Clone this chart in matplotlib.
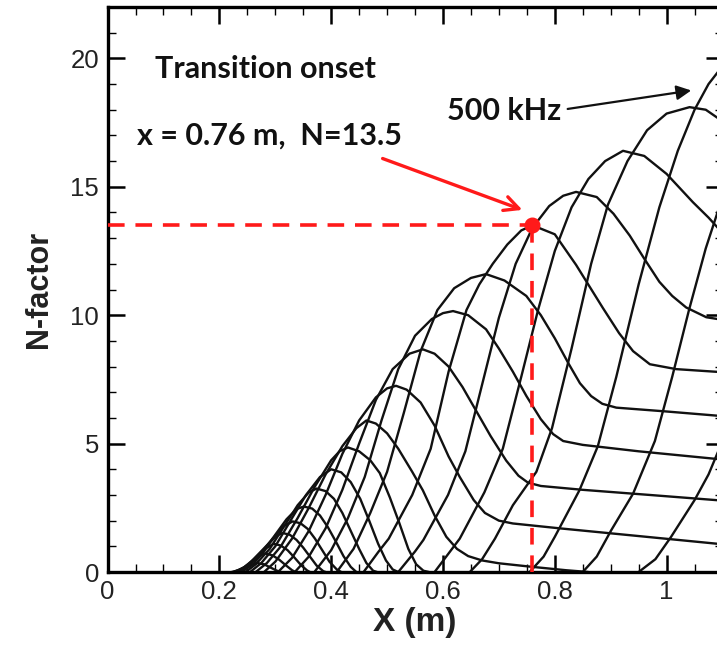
import matplotlib
matplotlib.use("Agg")
import matplotlib.pyplot as plt
from matplotlib.ticker import MultipleLocator, FixedLocator

# ---------------- data ----------------
c01_x = [0.222, 0.240, 0.255, 0.268, 0.280, 0.291, 0.302, 0.310]
c01_n = [0, 0.10, 0.27, 0.35, 0.30, 0.18, 0.06, 0]
c02_x = [0.225, 0.242, 0.258, 0.272, 0.282, 0.295, 0.307, 0.319, 0.330, 0.336]
c02_n = [0, 0.15, 0.40, 0.63, 0.72, 0.65, 0.48, 0.26, 0.07, 0]
c03_x = [0.228, 0.245, 0.262, 0.280, 0.297, 0.310, 0.322, 0.334, 0.346, 0.357, 0.362]
c03_n = [0, 0.20, 0.50, 0.88, 1.10, 1.03, 0.85, 0.57, 0.27, 0.06, 0]
c04_x = [0.231, 0.250, 0.270, 0.290, 0.303, 0.313, 0.326, 0.338, 0.350, 0.362, 0.374, 0.386, 0.390]
c04_n = [0, 0.25, 0.70, 1.15, 1.42, 1.52, 1.45, 1.25, 0.95, 0.60, 0.25, 0.03, 0]
c05_x = [0.235, 0.255, 0.275, 0.295, 0.315, 0.331, 0.345, 0.358, 0.371, 0.384, 0.397, 0.410, 0.418]
c05_n = [0, 0.30, 0.75, 1.30, 1.78, 1.97, 1.90, 1.68, 1.30, 0.85, 0.40, 0.10, 0]
c06_x = [0.240, 0.260, 0.280, 0.300, 0.320, 0.338, 0.351, 0.366, 0.380, 0.394, 0.408, 0.422, 0.435, 0.445]
c06_n = [0, 0.30, 0.80, 1.45, 2.05, 2.45, 2.55, 2.47, 2.20, 1.75, 1.20, 0.62, 0.20, 0]
c07_x = [0.247, 0.265, 0.290, 0.315, 0.340, 0.360, 0.374, 0.390, 0.405, 0.420, 0.435, 0.450, 0.463, 0.475, 0.482]
c07_n = [0, 0.30, 0.90, 1.75, 2.60, 3.10, 3.25, 3.15, 2.85, 2.30, 1.60, 0.90, 0.35, 0.05, 0]
c08_x = [0.255, 0.275, 0.300, 0.330, 0.355, 0.380, 0.400, 0.418, 0.435, 0.452, 0.468, 0.484, 0.498, 0.510, 0.520]
c08_n = [0, 0.35, 1.00, 2.10, 3.00, 3.70, 4.00, 3.88, 3.50, 2.85, 2.00, 1.10, 0.45, 0.10, 0]
c09_x = [0.265, 0.285, 0.310, 0.340, 0.370, 0.400, 0.415, 0.430, 0.450, 0.470, 0.487, 0.505, 0.522,
         0.538, 0.552, 0.565, 0.575]
c09_n = [0, 0.35, 1.00, 2.10, 3.30, 4.35, 4.70, 4.85, 4.70, 4.35, 3.85, 2.90, 1.90, 0.90, 0.30, 0.05, 0]
c10_x = [0.280, 0.300, 0.330, 0.360, 0.390, 0.420, 0.445, 0.463, 0.480, 0.500, 0.520, 0.545, 0.564,
         0.585, 0.606, 0.625, 0.645, 0.670, 0.700, 0.760, 0.820, 0.860]
c10_n = [0, 0.40, 1.30, 2.50, 3.80, 4.90, 5.60, 5.90, 5.78, 5.40, 4.80, 3.90, 3.18, 2.20, 1.37, 0.90,
         0.62, 0.45, 0.34, 0.20, 0.07, 0]
c11_x = [0.305, 0.330, 0.360, 0.390, 0.420, 0.450, 0.480, 0.500, 0.516, 0.535, 0.560, 0.585, 0.610,
         0.630, 0.655, 0.675, 0.700, 0.725, 0.809, 0.950, 1.100]
c11_n = [0, 0.55, 1.60, 3.00, 4.60, 5.90, 6.80, 7.15, 7.25, 7.10, 6.60, 5.70, 4.50, 3.70, 2.80, 2.30,
         2.00, 1.89, 1.70, 1.40, 1.08]
c12_x = [0.335, 0.360, 0.390, 0.420, 0.450, 0.480, 0.510, 0.540, 0.564, 0.585, 0.610, 0.635, 0.660,
         0.685, 0.713, 0.735, 0.752, 0.775, 0.850, 0.970, 1.100]
c12_n = [0, 0.60, 1.70, 3.20, 5.00, 6.70, 7.90, 8.50, 8.67, 8.50, 8.00, 7.20, 6.25, 5.30, 4.34, 3.75,
         3.48, 3.35, 3.20, 3.00, 2.78]
c13_x = [0.370, 0.400, 0.430, 0.460, 0.490, 0.520, 0.550, 0.580, 0.600, 0.618, 0.645, 0.677, 0.700,
         0.725, 0.749, 0.775, 0.797, 0.815, 0.850, 0.950, 1.100]
c13_n = [0, 0.85, 2.10, 3.70, 5.90, 7.90, 9.20, 9.85, 10.08, 10.16, 10.00, 9.45, 8.70, 7.80, 6.86,
         5.95, 5.37, 5.10, 4.95, 4.70, 4.38]
c14_x = [0.410, 0.440, 0.470, 0.500, 0.530, 0.560, 0.590, 0.620, 0.650, 0.677, 0.710, 0.749, 0.775,
         0.800, 0.825, 0.845, 0.865, 0.885, 0.910, 1.000, 1.100]
c14_n = [0, 0.90, 2.30, 3.90, 6.20, 8.60, 10.20, 11.05, 11.45, 11.60, 11.35, 10.75, 10.00, 9.10, 8.10,
         7.35, 6.85, 6.55, 6.40, 6.25, 6.07]
c15_x = [0.458, 0.485, 0.503, 0.545, 0.578, 0.610, 0.642, 0.665, 0.689, 0.715, 0.740, 0.760, 0.800,
         0.838, 0.886, 0.915, 0.940, 0.970, 1.017, 1.100]
c15_n = [0, 0.80, 1.30, 3.00, 4.80, 7.80, 10.20, 11.20, 12.00, 12.75, 13.30, 13.50, 13.15, 11.96,
         10.28, 9.30, 8.60, 8.09, 7.90, 7.78]
c16_x = [0.520, 0.550, 0.565, 0.609, 0.640, 0.670, 0.700, 0.730, 0.760, 0.790, 0.815, 0.838, 0.875,
         0.905, 0.934, 0.960, 0.987, 1.010, 1.035, 1.071, 1.100]
c16_n = [0, 0.80, 1.25, 3.00, 4.70, 7.30, 9.90, 12.00, 13.40, 14.25, 14.65, 14.80, 14.60, 13.95,
         13.10, 12.20, 11.30, 10.75, 10.30, 9.92, 9.82]
c17_x = [0.585, 0.630, 0.674, 0.707, 0.740, 0.770, 0.800, 0.830, 0.860, 0.890, 0.922, 0.960, 1.000,
         1.047, 1.075, 1.100]
c17_n = [0, 1.30, 3.10, 4.80, 7.60, 10.20, 12.50, 14.20, 15.30, 16.00, 16.40, 16.20, 15.50, 14.40,
         13.80, 13.20]
c18_x = [0.648, 0.670, 0.693, 0.725, 0.767, 0.795, 0.830, 0.865, 0.895, 0.930, 0.965, 1.000, 1.041,
         1.070, 1.100]
c18_n = [0, 0.50, 1.30, 2.60, 3.90, 5.60, 8.70, 12.00, 14.30, 16.00, 17.20, 17.85, 18.10, 18.00, 17.55]
c19_x = [0.755, 0.780, 0.800, 0.844, 0.877, 0.910, 0.950, 0.987, 1.020, 1.050, 1.075, 1.100]
c19_n = [0, 0.60, 1.37, 3.18, 4.90, 7.60, 11.20, 14.20, 16.40, 18.00, 19.00, 19.70]
c20_x = [0.850, 0.875, 0.901, 0.940, 0.979, 1.010, 1.040, 1.070, 1.100]
c20_n = [0, 0.60, 1.63, 3.05, 5.10, 7.60, 10.20, 12.60, 14.60]
c21_x = [0.950, 0.980, 1.008, 1.050, 1.075, 1.100]
c21_n = [0, 0.50, 1.37, 2.80, 3.80, 5.10]

curves_x = [c01_x, c02_x, c03_x, c04_x, c05_x, c06_x, c07_x, c08_x, c09_x, c10_x, c11_x,
            c12_x, c13_x, c14_x, c15_x, c16_x, c17_x, c18_x, c19_x, c20_x, c21_x]
curves_n = [c01_n, c02_n, c03_n, c04_n, c05_n, c06_n, c07_n, c08_n, c09_n, c10_n, c11_n,
            c12_n, c13_n, c14_n, c15_n, c16_n, c17_n, c18_n, c19_n, c20_n, c21_n]

onset_x = 0.76
onset_n = 13.5

x_ticks = [0, 0.2, 0.4, 0.6, 0.8, 1.0]
x_tick_labels = ["0", "0.2", "0.4", "0.6", "0.8", "1"]
y_ticks = [0, 5, 10, 15, 20]
y_tick_labels = ["0", "5", "10", "15", "20"]

# ---------------- figure ----------------
fig = plt.figure(figsize=(7.17, 6.47), dpi=100)
ax = fig.add_axes([0.150, 0.1159, 0.8577, 0.8733])

for xs, ns in zip(curves_x, curves_n):
    ax.plot(xs, ns, color="#111111", lw=1.7, solid_joinstyle="round", solid_capstyle="round")

ax.set_xlim(0, 1.1)
ax.set_ylim(0, 22)

# red transition-onset marker
red = "#ff1a1a"
ax.plot([0, onset_x], [onset_n, onset_n], color=red, lw=2.6, ls=(0, (4.6, 3.0)), zorder=4)
ax.plot([onset_x, onset_x], [0, onset_n], color=red, lw=2.6, ls=(0, (4.6, 3.0)), zorder=4)
ax.plot([onset_x], [onset_n], "o", color=red, ms=10.5, zorder=5)

ann_font = dict(family=["Lato", "DejaVu Sans"], fontweight="bold", fontsize=22, color="#111111")
ax.text(0.084, 19.6, "Transition onset", va="center", ha="left", **ann_font)
ax.text(0.052, 17.0, "x = 0.76 m,  N=13.5", va="center", ha="left", **ann_font)
ax.text(0.608, 17.95, "500 kHz", va="center", ha="left", **ann_font)

ax.annotate("", xy=(0.742, 14.1), xytext=(0.492, 16.1),
            arrowprops=dict(arrowstyle="->", color=red, lw=2.4, mutation_scale=26,
                            shrinkA=0, shrinkB=0))
ax.annotate("", xy=(1.044, 18.75), xytext=(0.823, 18.03),
            arrowprops=dict(arrowstyle="-|>", color="#111111", lw=1.6, mutation_scale=22,
                            shrinkA=0, shrinkB=0))

# axes styling
ax.xaxis.set_major_locator(FixedLocator(x_ticks))
ax.set_xticklabels(x_tick_labels)
ax.yaxis.set_major_locator(FixedLocator(y_ticks))
ax.set_yticklabels(y_tick_labels)
ax.xaxis.set_minor_locator(MultipleLocator(0.05))
ax.yaxis.set_minor_locator(MultipleLocator(1))
ax.tick_params(which="both", direction="in", top=True, right=True)
ax.tick_params(which="major", length=12, width=1.8, labelsize=18.5, pad=6)
ax.tick_params(which="minor", length=6, width=1.0)
for lab in ax.get_xticklabels() + ax.get_yticklabels():
    lab.set_family(["Liberation Sans", "DejaVu Sans"])
    lab.set_color("#222222")
for sp in ax.spines.values():
    sp.set_linewidth(2.4)

ax.set_xlabel("X (m)", fontsize=24, fontweight="bold", family=["Liberation Sans", "DejaVu Sans"],
              labelpad=2, color="#222222")
ax.set_ylabel("N-factor", fontsize=22, fontweight="bold", family=["Liberation Sans", "DejaVu Sans"],
              labelpad=12, color="#222222")

fig.savefig("out.png", dpi=100)
